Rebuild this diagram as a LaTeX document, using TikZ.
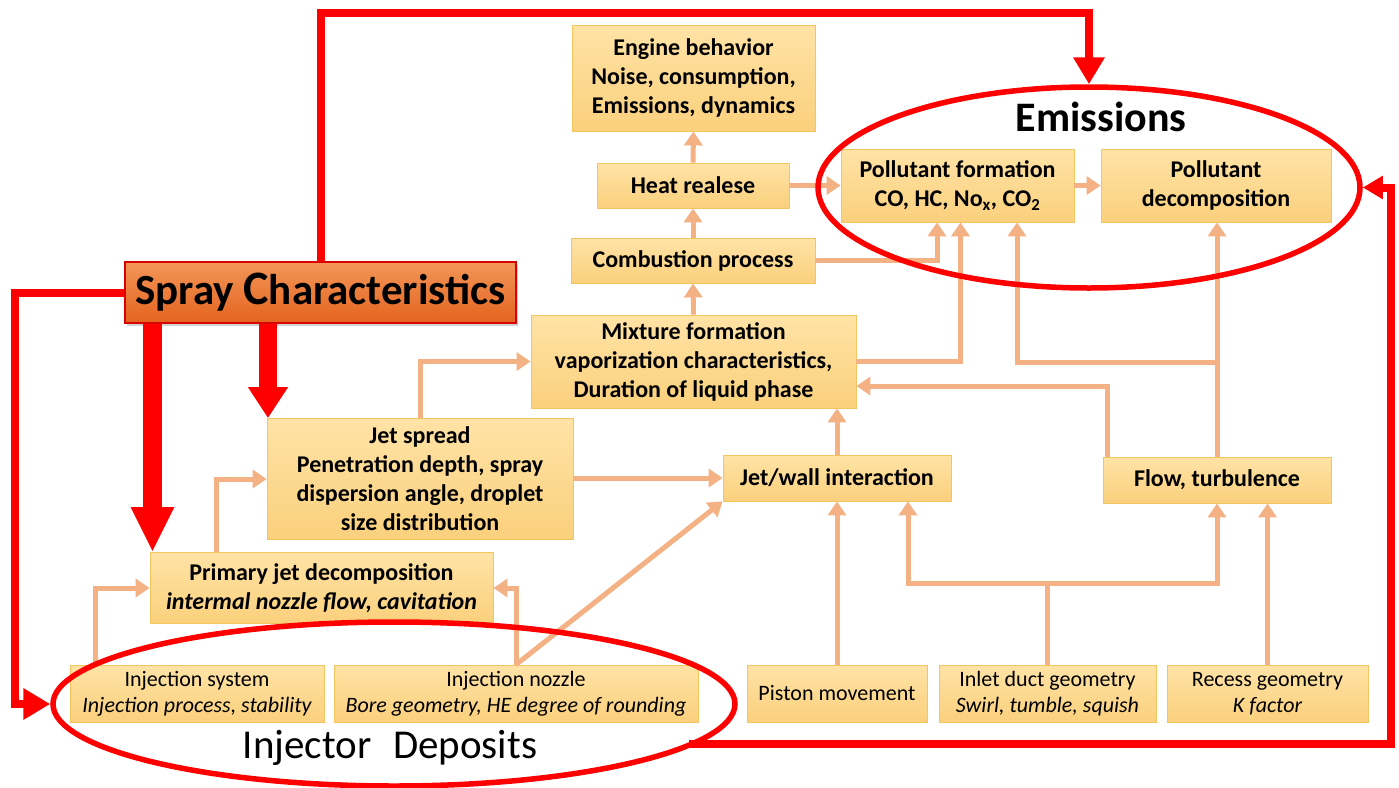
\documentclass[tikz,border=0pt]{standalone}
\usepackage{fontspec}
\setmainfont{Carlito}
\usetikzlibrary{arrows.meta,shapes.geometric,shadows,calc}
\definecolor{peach}{HTML}{F4B183}
\definecolor{boxtop}{HTML}{FFE3A6}
\definecolor{boxbot}{HTML}{FAD07C}
\definecolor{boxline}{HTML}{F3C55E}
\definecolor{redc}{HTML}{FF0000}
\definecolor{sprtop}{HTML}{F29658}
\definecolor{sprbot}{HTML}{E4631E}
\newcommand\fmid{\fontsize{24}{29}\selectfont\bfseries}
\newcommand\fbot{\fontsize{22}{26}\selectfont}
\tikzset{
  box/.style={draw=boxline, line width=0.8pt, top color=boxtop, bottom color=boxbot,
    inner sep=0pt, align=center, font=\fmid},
  lowbox/.style={box, font=\fbot},
  pe/.style={draw=peach, line width=5pt, -{Triangle[length=14pt,width=18pt]}},
  pl/.style={draw=peach, line width=5pt},
  redline/.style={draw=redc, line width=8pt},
  redarrow/.style={redline, -{Triangle[length=27pt,width=30pt]}},
  redell/.style={draw=redc, line width=5.5pt, ellipse, inner sep=0pt},
}
\begin{document}
\begin{tikzpicture}[x=1pt,y=-1pt]
\useasboundingbox (0,0) rectangle (1399,787);

% boxes
\node[box, minimum width=243, minimum height=106] (eng) at (693.5,78)
  {Engine behavior\\Noise, consumption,\\Emissions, dynamics};
\node[box, minimum width=192, minimum height=45] (heat) at (693,185.5) {Heat realese};
\node[box, minimum width=244, minimum height=45] (comb) at (693,260.5) {Combustion process};
\node[box, minimum width=325, minimum height=93] (mix) at (693.5,361.5)
  {Mixture formation\\vaporization characteristics,\\Duration of liquid phase};
\node[box, minimum width=306, minimum height=121] (jet) at (420,479)
  {Jet spread\\Penetration depth, spray\\dispersion angle, droplet\\size distribution};
\node[box, minimum width=228, minimum height=46] (jw) at (837,478) {Jet/wall interaction};
\node[box, minimum width=228, minimum height=46] (flow) at (1217,480) {Flow, turbulence};
\node[box, minimum width=343, minimum height=71] (prim) at (321.5,588)
  {Primary jet decomposition\\\itshape intermal nozzle flow, cavitation};
\node[lowbox, minimum width=254, minimum height=57] (isys) at (197,693.5)
  {Injection system\\\itshape Injection process, stability};
\node[lowbox, minimum width=364, minimum height=57] (inoz) at (516,693.5)
  {Injection nozzle\\\itshape Bore geometry, HE degree of rounding};
\node[lowbox, minimum width=180, minimum height=57] (pist) at (837,693.5) {Piston movement};
\node[lowbox, minimum width=217, minimum height=57] (inlet) at (1047.5,693.5)
  {Inlet duct geometry\\\itshape Swirl, tumble, squish};
\node[lowbox, minimum width=201, minimum height=57] (recess) at (1267.5,693.5)
  {Recess geometry\\\itshape K factor};
\node[box, minimum width=233, minimum height=73] (pform) at (957.5,185.5)
  {Pollutant formation\\CO, HC, No\textsubscript{x}, CO\textsubscript{2}};
\node[box, minimum width=230, minimum height=73] (pdec) at (1216,185.5)
  {Pollutant\\decomposition};

% peach connectors
\draw[pe] (heat.north) -- (eng.south);
\draw[pe] (comb.north) -- (heat.south);
\draw[pe] (mix.north) -- (comb.south);
\draw[pe] (heat.east) -- (pform.west);
\draw[pe] (pform.east) -- (pdec.west);
\draw[pe] (comb.east) -| ([xshift=-20.5pt]pform.south);
\draw[pe] (mix.east) -| ([xshift=3pt]pform.south);
\draw[pe] (flow.north) -- (flow.north |- pdec.south);
\coordinate (br) at (1217,362);
\draw[pe] (br) -| ([xshift=59.5pt]pform.south);
\draw[pe] ([xshift=-110pt]flow.north) |- ([yshift=-24.5pt]mix.east);
\draw[pe] (jet.north) |- (mix.west);
\draw[pe] (jet.east |- jw.west) -- (jw.west);
\draw[pe] (jw.north) -- (jw.north |- mix.south);
\draw[pe] (inoz.north) -- (jw.south west);
\draw[pe] (inoz.north) |- (prim.east);
\draw[pe] ([xshift=-102pt]isys.north) |- (prim.west);
\draw[pe] ([xshift=-105pt]prim.north) |- (jet.west);
\draw[pe] (pist.north) -- (pist.north |- jw.south);
\coordinate (ij) at (1047.5,583);
\draw[pl] (inlet.north) -- (ij);
\draw[pe] (ij) -| ([xshift=71pt]jw.south);
\draw[pe] (ij) -| (flow.south);
\draw[pe] (recess.north) -- (recess.north |- flow.south);

% spray box
\node[draw=redc!85!black, line width=1.4pt, top color=sprtop, bottom color=sprbot,
  minimum width=391, minimum height=61, inner sep=0pt,
  drop shadow={opacity=0.35, shadow xshift=2pt, shadow yshift=-3pt},
  font=\fontsize{43}{43}\selectfont\bfseries] (spray) at (320.5,292.5)
  {Spray {\fontsize{48}{48}\selectfont C}haracteristics};

% ellipses
\node[redell, minimum width=542, minimum height=201] (emell) at (1089,187.5) {};
\node[redell, minimum width=682, minimum height=164] (injell) at (394,704) {};
\node[font=\fontsize{42}{42}\selectfont\bfseries] (emtxt) at (1101,117) {Emissions};
\node[font=\fontsize{41}{41}\selectfont] (injtxt) at (390,748) {Injector\hspace{0.3em} Deposits};

% red connectors
\coordinate (topR) at (1089,13);
\draw[redarrow] (spray.north) |- (topR) -- (emell.north);
\coordinate (lc) at (14.5,704);
\draw[redarrow] (spray.west) -| (lc) -- (injell.west);
\coordinate (bs) at (689,744);
\coordinate (rc) at (1391,187.5);
\draw[redline, -{Triangle[length=20pt,width=22pt]}] (bs) -| (rc) -- (emell.east);
\draw[draw=redc, line width=19pt, -{Triangle[length=45pt,width=40pt]}]
  ([xshift=-168pt]spray.south) -- ([xshift=-168pt]spray.south |- prim.north);
\draw[draw=redc, line width=18pt, -{Triangle[length=31pt,width=38pt]}]
  ([xshift=-52.5pt]spray.south) -- ([xshift=-52.5pt]spray.south |- jet.north);
\end{tikzpicture}
\end{document}
